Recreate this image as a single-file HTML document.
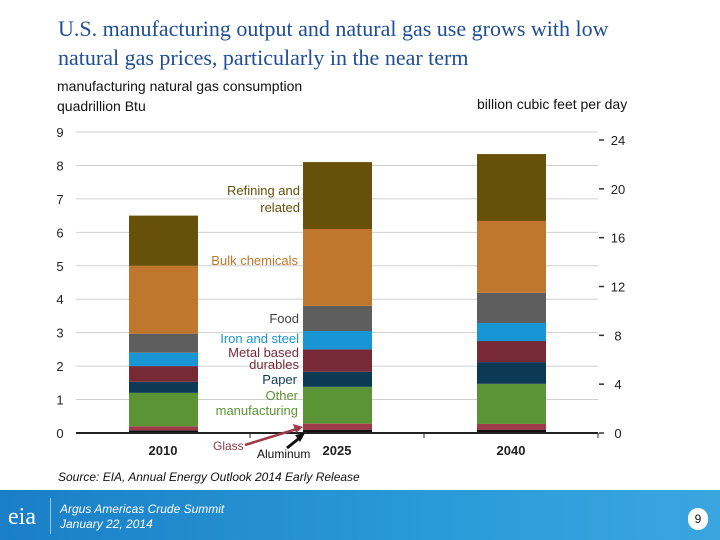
<!DOCTYPE html>
<html><head><meta charset="utf-8"><style>
body{margin:0;width:720px;height:540px;overflow:hidden;background:#fff;font-family:"Liberation Sans",sans-serif;position:relative}
.t{position:absolute;white-space:nowrap}
</style></head><body>
<div class="t" style="left:58px;top:14px;font-family:'Liberation Serif',serif;font-size:22px;line-height:29px;color:#1f4e96">U.S. manufacturing output and natural gas use grows with low<br>natural gas prices, particularly in the near term</div>
<div class="t" style="left:57px;top:76px;font-size:14px;line-height:20px;color:#111">manufacturing natural gas consumption<br>quadrillion Btu</div>
<div class="t" style="left:477px;top:96px;font-size:14px;color:#111">billion cubic feet per day</div>
<svg id="c" width="720" height="480" style="position:absolute;left:0;top:0"></svg>
<div class="t" style="left:58px;top:470px;font-size:12px;font-style:italic;color:#111">Source: EIA, Annual Energy Outlook 2014 Early Release</div>
<div style="position:absolute;left:0;top:490px;width:720px;height:50px;background:linear-gradient(90deg,#1a7fc6,#2a9ad8 60%,#3aa6e0)">
<div class="t" style="left:8px;top:14px;font-family:'Liberation Serif',serif;font-size:24px;color:#fff">eia</div>
<div style="position:absolute;left:50px;top:8px;width:1px;height:36px;background:#9cd"></div>
<div class="t" style="left:60px;top:12px;font-size:12px;line-height:15px;font-style:italic;color:#fff">Argus Americas Crude Summit<br>January 22, 2014</div>
<div class="t" style="left:688px;top:18px;width:20px;height:22px;border-radius:11px;background:#fff;color:#111;font-size:12px;text-align:center;line-height:22px">9</div>
</div>
<script>
const years=["2010","2025","2040"];
const seriesNames=["Aluminum","Glass","Other manufacturing","Paper","Metal based durables","Iron and steel","Food","Bulk chemicals","Refining and related"];
const colors=["#111111","#a03a4a","#5a9434","#0c3a55","#772a35","#1795d4","#5e5e5e","#c0762c","#67500a"];
const aluminum=[0.08,0.1,0.1];
const glass=[0.12,0.18,0.17];
const otherMfg=[1.0,1.1,1.2];
const paper=[0.33,0.45,0.65];
const metal=[0.47,0.67,0.63];
const iron=[0.4,0.55,0.54];
const food=[0.57,0.75,0.9];
const bulk=[2.03,2.3,2.15];
const refining=[1.5,2.0,2.0];
const series=[aluminum,glass,otherMfg,paper,metal,iron,food,bulk,refining];
const leftTicks=[0,1,2,3,4,5,6,7,8,9];
const rightTicks=[0,4,8,12,16,20,24];
const svg=document.getElementById('c');const NS="http://www.w3.org/2000/svg";
const y0=433,y9=132;
const yL=v=>y0-(y0-y9)*v/9;
const yR=v=>y0-(y0-140)*v/24;
const xC=i=>163+i*174;
function mk(t,a,txt){const e=document.createElementNS(NS,t);for(const k in a)e.setAttribute(k,a[k]);if(txt!=null)e.textContent=txt;svg.appendChild(e);return e;}
leftTicks.forEach(v=>{
 const g=mk('line',{x1:76,x2:598,y1:yL(v),y2:yL(v),stroke:v?'#d0d0d0':'#222','stroke-width':v?1:2});
 
 const t=mk('text',{x:60,y:yL(v)+5,'text-anchor':'middle','font-size':13,fill:'#222'},v);
 
});
rightTicks.forEach(v=>{
 const l=mk('line',{x1:599,x2:604,y1:yR(v),y2:yR(v),stroke:'#333','stroke-width':1.5});
 
 const t=mk('text',{x:618,y:yR(v)+5,'text-anchor':'middle','font-size':13,fill:'#222'},v);
 
});
[250,424,598].forEach(x=>{const l=mk('line',{x1:x,x2:x,y1:y0,y2:y0+5,stroke:'#222'});});
years.forEach((yr,i)=>{
 let cum=0;
 series.forEach((s,j)=>{
  const b=mk('rect',{x:xC(i)-34,width:69,y:yL(cum+s[i]),height:yL(cum)-yL(cum+s[i]),fill:colors[j]});
  
  
  cum+=s[i];
 });
 const t=mk('text',{x:xC(i),y:455,'text-anchor':'middle','font-size':13,'font-weight':'bold',fill:'#222'},yr);
 
});
mk('line',{x1:76,x2:598,y1:y0,y2:y0,stroke:'#222','stroke-width':2});
const labels=[["Refining and",300,195,"#67500a"],["related",300,212,"#67500a"],["Bulk chemicals",298,265,"#c0762c"],["Food",299,323,"#444"],["Iron and steel",299,343,"#1795d4"],["Metal based",299,357,"#772a35"],["durables",299,369,"#772a35"],["Paper",297,384,"#0c3a55"],["Other",298,400,"#5a9434"],["manufacturing",298,415,"#5a9434"]];
labels.forEach(l=>{const t=mk('text',{x:l[1],y:l[2],'text-anchor':'end','font-size':13,fill:l[3]},l[0]);});
let g=mk('text',{x:213,y:450,'font-size':12,fill:'#8a3a4a'},'Glass');
let a=mk('text',{x:257,y:458,'font-size':12,fill:'#111'},'Aluminum');
let ag=mk('line',{x1:245,y1:445,x2:300,y2:428,stroke:'#a03a4a','stroke-width':2.5});
mk('polygon',{points:'303,427 293,424 296,433',fill:'#a03a4a'});
let aa=mk('line',{x1:287,y1:448,x2:302,y2:436,stroke:'#111','stroke-width':3});
mk('polygon',{points:'305,433 295,435 300,442',fill:'#111'});
</script>
</body></html>
